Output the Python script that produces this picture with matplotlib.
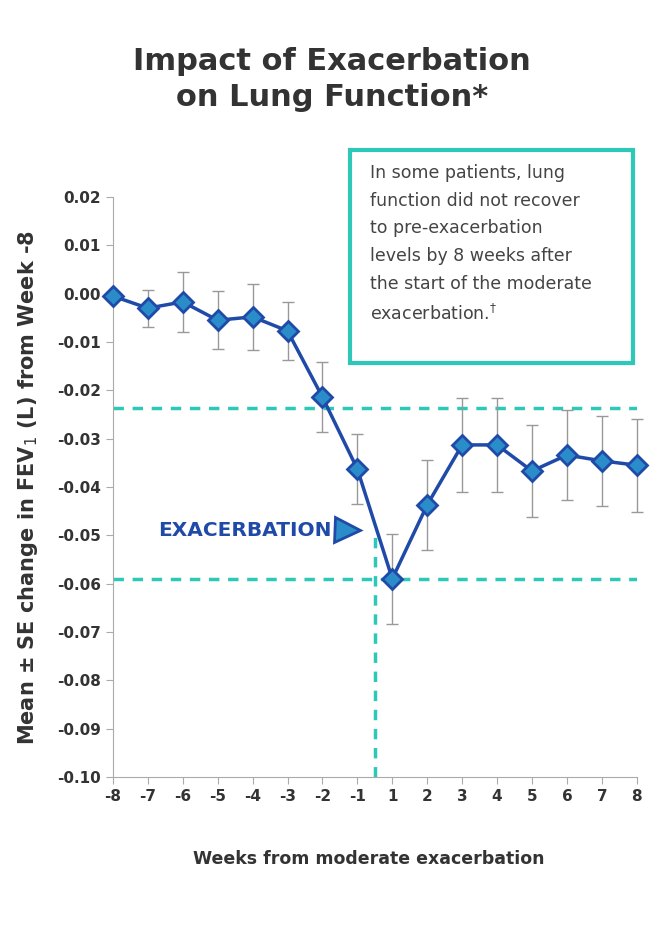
import matplotlib
matplotlib.use("Agg")
import matplotlib.pyplot as plt

weeks = ["-8", "-7", "-6", "-5", "-4", "-3", "-2", "-1", "1", "2", "3", "4", "5", "6", "7", "8"]
mean_change = [-0.0005, -0.0030, -0.0017, -0.0055, -0.0048, -0.0077, -0.0214, -0.0363,
               -0.0590, -0.0437, -0.0313, -0.0313, -0.0367, -0.0334, -0.0346, -0.0355]
se = [0.0, 0.0038, 0.0062, 0.0060, 0.0068, 0.0060, 0.0073, 0.0072,
      0.0093, 0.0093, 0.0097, 0.0097, 0.0095, 0.0093, 0.0093, 0.0096]
recovery_level = -0.0237
nadir_level = -0.0590

teal = "#2ec8b8"
blue = "#1f4aa8"
dark = "#333333"

fig = plt.figure(figsize=(6.64, 9.36), dpi=100)
ax = fig.add_axes([0.170, 0.170, 0.789, 0.6195])
x = list(range(len(weeks)))

ax.axhline(recovery_level, color=teal, ls=(0, (3, 2.5)), lw=2.5, zorder=1)
ax.axhline(nadir_level, color=teal, ls=(0, (3, 2.5)), lw=2.5, zorder=1)
ax.plot([7.5, 7.5], [-0.10, -0.049], color=teal, ls=(0, (3, 2.5)), lw=2.5, zorder=1, clip_on=False)

eb = ax.errorbar(x, mean_change, yerr=se, fmt="none", ecolor="#999999", elinewidth=1, capsize=4, zorder=2)
for part in eb.lines[1] + eb.lines[2]:
    part.set_clip_on(False)
ax.plot(x, mean_change, color=blue, lw=2.5, marker="D", markersize=10,
        markerfacecolor="#2a8cc8", markeredgecolor=blue, markeredgewidth=2, zorder=3, clip_on=False)

ax.set_xlim(0, 15)
ax.set_ylim(-0.10, 0.02)
ax.set_xticks(x)
ax.set_xticklabels(weeks)
yt = [0.02 - 0.01 * i for i in range(13)]
ax.set_yticks(yt)
ax.set_yticklabels([f"{v:.2f}" if abs(v) > 1e-9 else "0.00" for v in yt])
for s in ["top", "right"]:
    ax.spines[s].set_visible(False)
for s in ["left", "bottom"]:
    ax.spines[s].set_color("#aaaaaa")
ax.tick_params(colors="#aaaaaa", labelcolor=dark, labelsize=11, length=5)
for lbl in ax.get_xticklabels() + ax.get_yticklabels():
    lbl.set_fontweight("bold")

ax.set_ylabel("Mean ± SE change in FEV$_1$ (L) from Week -8", fontsize=15, fontweight="bold",
              color=dark, labelpad=12)
fig.text(0.555, 0.077, "Weeks from moderate exacerbation", ha="center", fontsize=12.5,
         fontweight="bold", color=dark)
fig.text(0.5, 0.915, "Impact of Exacerbation\non Lung Function*", ha="center", va="center",
         fontsize=22, fontweight="semibold", color=dark, linespacing=1.3)

ax.text(6.25, -0.0490, "EXACERBATION", ha="right", va="center", fontsize=14.5, fontweight="bold", color=blue)
ax.plot([6.7], [-0.0490], marker=">", markersize=18, markerfacecolor="#2a8cc8",
        markeredgecolor=blue, markeredgewidth=2)

fig.text(0.557, 0.825,
         "In some patients, lung\nfunction did not recover\nto pre-exacerbation\nlevels by 8 weeks after\nthe start of the moderate\nexacerbation.$^{\\dagger}$",
         ha="left", va="top", fontsize=12.5, color="#444444", linespacing=1.7)
box = plt.Rectangle((0.527, 0.612), 0.427, 0.228, transform=fig.transFigure, fill=False,
                    edgecolor=teal, lw=3)
fig.add_artist(box)

fig.savefig("out.png", dpi=100)
